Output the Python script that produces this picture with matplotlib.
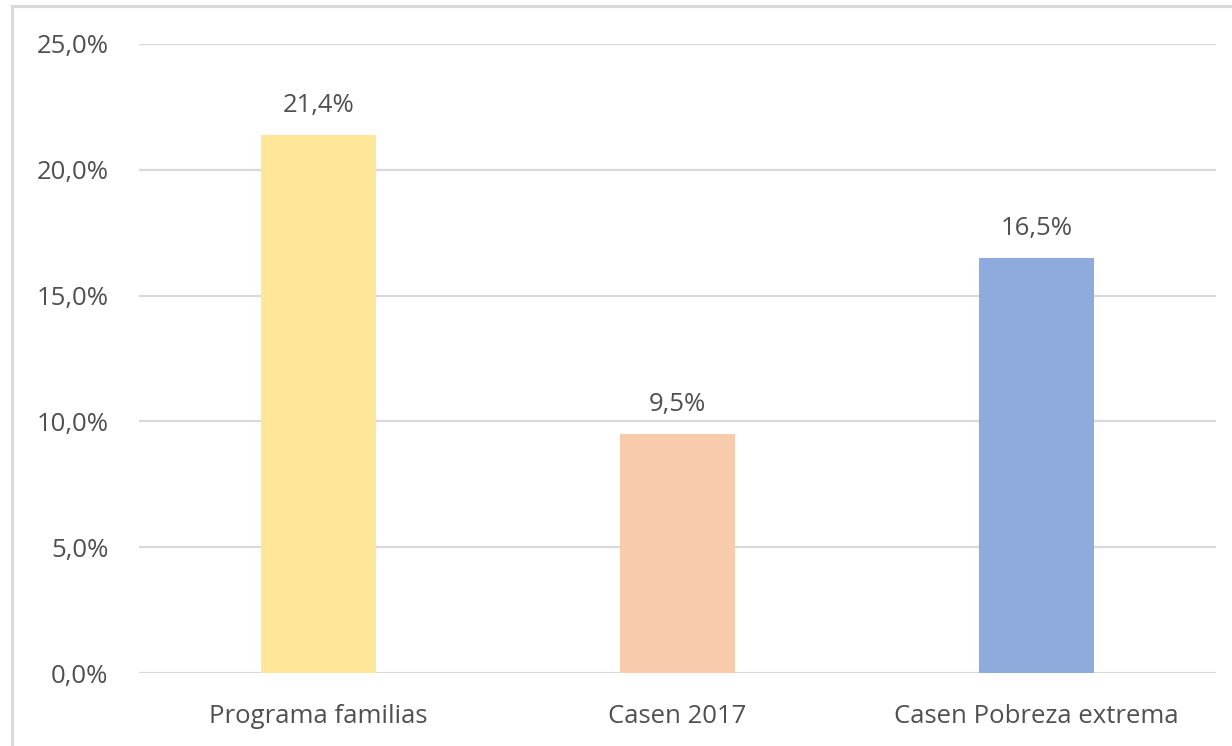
import numpy as np
import matplotlib.pyplot as plt
from matplotlib.patches import Rectangle
from matplotlib.ticker import FuncFormatter

# data
categories = ["Programa familias", "Casen 2017", "Casen Pobreza extrema"]
values = [21.4, 9.5, 16.5]
colors = ["#FFE699", "#F8CBAD", "#8FAADC"]
yticks = [0, 5, 10, 15, 20, 25]

plt.rcParams["font.family"] = ["Open Sans", "DejaVu Sans"]
text_color = "#505050"
grid_color = "#D9D9D9"

fig = plt.figure(figsize=(12.32, 7.46), dpi=100)
ax = fig.add_axes([139 / 1232, 1 - 673 / 746, (1216 - 139) / 1232, (673 - 44) / 746])

x = np.arange(len(categories))
bars = ax.bar(x, values, width=0.32, color=colors, zorder=3)

for xi, v in zip(x, values):
    ax.annotate(f"{v:.1f}%".replace(".", ","), (xi, v), xytext=(0, 21),
                textcoords="offset points", ha="center", va="center",
                fontsize=18.5, color=text_color)

ax.set_xlim(-0.5, len(categories) - 0.5)
ax.set_ylim(0, 25)
ax.set_yticks(yticks)
ax.yaxis.set_major_formatter(FuncFormatter(lambda v, p: f"{v:.1f}%".replace(".", ",")))
ax.set_xticks(x)
ax.set_xticklabels(categories)
ax.tick_params(axis="both", length=0, labelsize=18.5, labelcolor=text_color)
ax.tick_params(axis="y", pad=22)
ax.tick_params(axis="x", pad=22)
ax.grid(axis="y", color=grid_color, linewidth=1.6, zorder=0)
for s in ax.spines.values():
    s.set_visible(False)

# outer frame of the chart (cut off at right and bottom)
fig.patches.append(Rectangle((12 / 1232, -0.1), 1.2, 1.1 - 6 / 746,
                             transform=fig.transFigure, fill=False,
                             edgecolor=grid_color, linewidth=2.2))

plt.savefig("out.png", dpi=100)
